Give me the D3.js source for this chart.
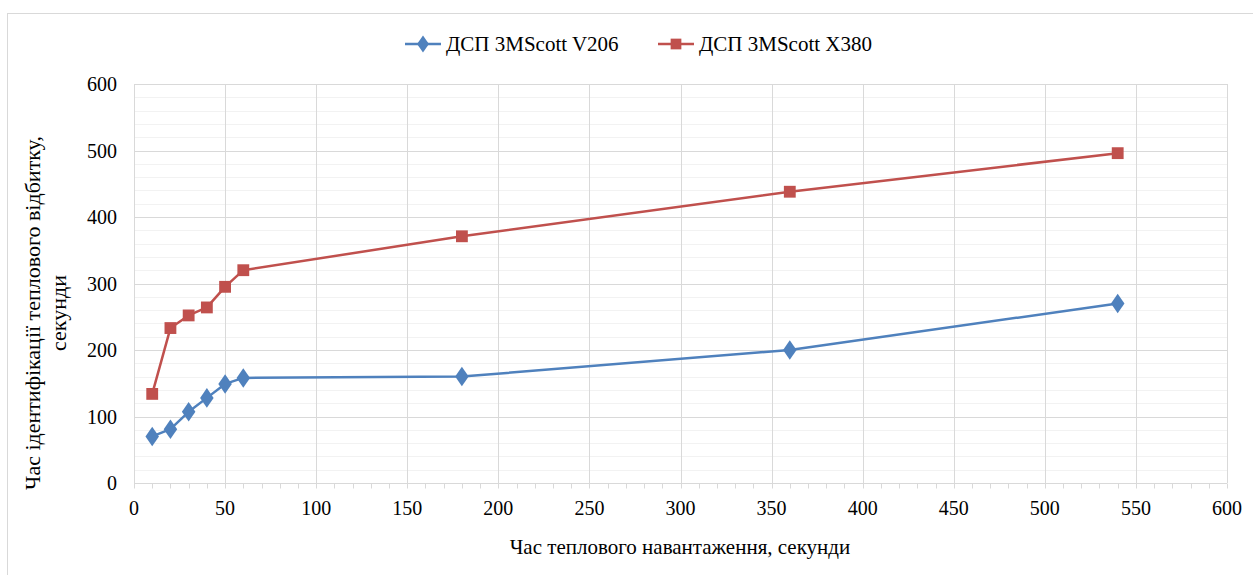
<!DOCTYPE html>
<html lang="uk">
<head>
<meta charset="UTF-8">
<title>Chart</title>
<script src="https://cdnjs.cloudflare.com/ajax/libs/d3/7.8.5/d3.min.js"></script>
<style>
  body { margin: 0; background: #fff; }
  svg { display: block; font-family: "Liberation Serif", "DejaVu Serif", serif; }
</style>
</head>
<body>
<div id="chart"></div>
<script>
// heating time, seconds
var loadTimes = [10, 20, 30, 40, 50, 60, 180, 360, 540];
// identification time, seconds
var v206 = [70, 81, 107, 128, 149, 158, 160, 200, 270];
var x380 = [134, 233, 252, 264, 295, 320, 371, 438, 496];
var seriesNames = ["ДСП 3MScott V206", "ДСП 3MScott X380"];
var xTicks = [0, 50, 100, 150, 200, 250, 300, 350, 400, 450, 500, 550, 600];
var yTicks = [0, 100, 200, 300, 400, 500, 600];

var W = 1253, H = 575;
var svg = d3.select('#chart').append('svg').attr('width', W).attr('height', H);

// chart frame
svg.append('rect').attr('x', 7.5).attr('y', 13.5).attr('width', W + 10).attr('height', H + 10)
   .attr('fill', 'none').attr('stroke', '#d9d9d9').attr('stroke-width', 1);

var x = d3.scaleLinear().domain([0, 600]).range([134, 1227]);
var y = d3.scaleLinear().domain([0, 600]).range([483, 84]);

// minor horizontal grid
svg.append('g').selectAll('line').data(d3.range(20, 600, 20).filter(function(v){ return v % 100; }))
  .enter().append('line')
  .attr('x1', x(0)).attr('x2', x(600))
  .attr('y1', function(d){ return Math.round(y(d)) + 0.5; })
  .attr('y2', function(d){ return Math.round(y(d)) + 0.5; })
  .attr('stroke', '#f2f2f2').attr('stroke-width', 1);

// major grid
svg.append('g').selectAll('line').data(yTicks.slice(1))
  .enter().append('line')
  .attr('x1', x(0)).attr('x2', x(600))
  .attr('y1', function(d){ return Math.round(y(d)) + 0.5; })
  .attr('y2', function(d){ return Math.round(y(d)) + 0.5; })
  .attr('stroke', '#d9d9d9').attr('stroke-width', 1);
svg.append('g').selectAll('line').data(xTicks)
  .enter().append('line')
  .attr('x1', function(d){ return Math.round(x(d)) + 0.5; })
  .attr('x2', function(d){ return Math.round(x(d)) + 0.5; })
  .attr('y1', y(600)).attr('y2', y(0))
  .attr('stroke', '#d9d9d9').attr('stroke-width', 1);

// x axis with minor ticks
var xAxisG = svg.append('g').attr('transform', 'translate(0,' + (Math.round(y(0)) + 0.5) + ')');
xAxisG.append('line').attr('x1', x(0)).attr('x2', x(600)).attr('stroke', '#d9d9d9');
xAxisG.selectAll('line.minor').data(d3.range(0, 601, 10)).enter().append('line')
  .attr('class', 'minor')
  .attr('x1', function(d){ return Math.round(x(d)) + 0.5; })
  .attr('x2', function(d){ return Math.round(x(d)) + 0.5; })
  .attr('y1', 0).attr('y2', 5).attr('stroke', '#d9d9d9');
xAxisG.selectAll('text').data(xTicks).enter().append('text')
  .attr('x', function(d){ return x(d); }).attr('y', 31)
  .attr('text-anchor', 'middle').attr('font-size', 20).attr('fill', '#000')
  .text(function(d){ return d; });

// y axis labels
svg.append('g').selectAll('text').data(yTicks).enter().append('text')
  .attr('x', 117).attr('y', function(d){ return y(d) + 7; })
  .attr('text-anchor', 'end').attr('font-size', 20).attr('fill', '#000')
  .text(function(d){ return d; });

// axis titles
svg.append('text').attr('x', 680).attr('y', 554)
  .attr('text-anchor', 'middle').attr('font-size', 21).text('Час теплового навантаження, секунди');
var yt = svg.append('text').attr('transform', 'translate(0,' + 313 + ') rotate(-90)')
  .attr('text-anchor', 'middle').attr('font-size', 22);
yt.append('tspan').attr('x', 0).attr('y', 40).text('Час ідентифікації теплового відбитку,');
yt.append('tspan').attr('x', 0).attr('y', 66).text('секунди');

var colors = ['#4f81bd', '#c0504d'];
var line = d3.line().x(function(d){ return x(d[0]); }).y(function(d){ return y(d[1]); });

function drawSeries(vals, color, shape) {
  var pts = loadTimes.map(function(t, i){ return [t, vals[i]]; });
  svg.append('path').datum(pts).attr('d', line).attr('fill', 'none')
    .attr('stroke', color).attr('stroke-width', 2.5).attr('stroke-linejoin', 'round');
  svg.append('g').selectAll('path').data(pts).enter().append('path')
    .attr('d', d3.symbol().type(shape).size(shape === d3.symbolDiamond ? 110 : 140))
    .attr('transform', function(d){
      return 'translate(' + x(d[0]) + ',' + y(d[1]) + ')' + (shape === d3.symbolDiamond ? ' scale(1.2,1)' : '');
    })
    .attr('fill', color);
}
drawSeries(v206, colors[0], d3.symbolDiamond);
drawSeries(x380, colors[1], d3.symbolSquare);

// legend
var legendX = [405, 658];
var shapes = [d3.symbolDiamond, d3.symbolSquare];
seriesNames.forEach(function(name, i) {
  var g = svg.append('g').attr('transform', 'translate(' + legendX[i] + ',44)');
  g.append('line').attr('x1', 0).attr('x2', 36).attr('stroke', colors[i]).attr('stroke-width', 2.5);
  g.append('path').attr('d', d3.symbol().type(shapes[i]).size(i === 0 ? 85 : 115))
    .attr('transform', 'translate(18,0)' + (i === 0 ? ' scale(1.2,1)' : '')).attr('fill', colors[i]);
  g.append('text').attr('x', 41).attr('y', 7).attr('font-size', 21).text(name);
});
</script>
</body>
</html>
